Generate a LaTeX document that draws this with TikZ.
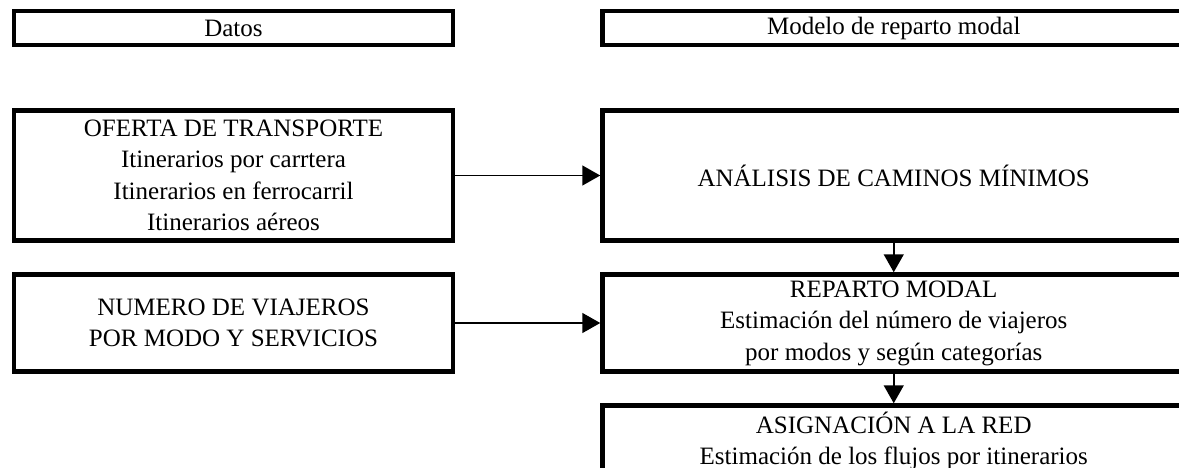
\documentclass[tikz,border=0pt]{standalone}
\usepackage{fontspec}
\setmainfont{Liberation Serif}
\usetikzlibrary{arrows.meta}
\begin{document}
\begin{tikzpicture}[x=1pt,y=-1pt,
  box/.style={draw=black,line width=4.5pt,rectangle,inner sep=0pt,align=center,
    font=\fontsize{25}{31.5}\selectfont},
  lbox/.style={box,minimum width=439pt},
  rbox/.style={box,minimum width=582.5pt},
  arr/.style={line width=1.5pt,-{Triangle[length=18pt,width=20pt]}}]
\useasboundingbox (0,0) rectangle (1179,468);
\node[lbox,minimum height=34pt] (datos) at (233.5,28) {Datos};
\node[rbox,minimum height=34pt] (modelo) at (893.75,28) {Modelo de reparto modal};
\node[lbox,minimum height=130pt] (oferta) at (233.5,175.5)
  {OFERTA DE TRANSPORTE\\Itinerarios por carrtera\\Itinerarios en ferrocarril\\Itinerarios aéreos};
\node[rbox,minimum height=130pt] (analisis) at (893.75,175.5) {ANÁLISIS DE CAMINOS MÍNIMOS};
\node[lbox,minimum height=97pt] (numero) at (233.5,323)
  {NUMERO DE VIAJEROS\\POR MODO Y SERVICIOS};
\node[rbox,minimum height=97pt] (reparto) at (893.75,323)
  {REPARTO MODAL\\Estimación del número de viajeros\\por modos y según categorías};
\node[rbox,minimum height=71pt] (asig) at (893.75,441)
  {ASIGNACIÓN A LA RED\\Estimación de los flujos por itinerarios};
\draw[arr] (oferta.east) -- (analisis.west);
\draw[arr] (numero.east) -- (reparto.west);
\draw[arr] (analisis.south) -- (reparto.north);
\draw[arr] (reparto.south) -- (asig.north);
\end{tikzpicture}
\end{document}
